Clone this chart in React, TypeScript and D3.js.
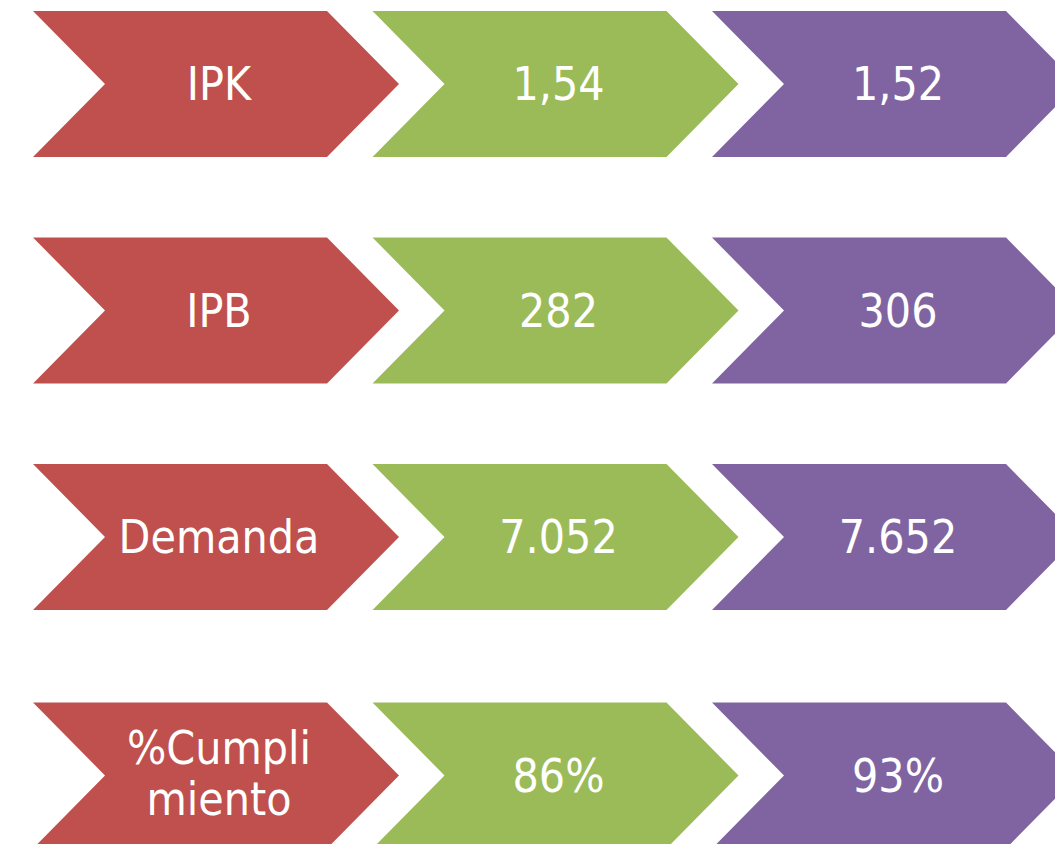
import * as d3 from 'd3';

// row labels (red), current period (green), target / next period (purple)
const metrics = ['IPK', 'IPB', 'Demanda', '%Cumplimiento'];
const metricLines = [['IPK'], ['IPB'], ['Demanda'], ['%Cumpli', 'miento']];
const actualValues = ['1,54', '282', '7.052', '86%'];
const targetValues = ['1,52', '306', '7.652', '93%'];
const stageColors = ['#C0504D', '#9BBB59', '#8064A2'];

const width = 1055;
const height = 844;

function chevronPath(x: number, cy: number, w: number, h: number, depth: number) {
  const p = d3.path();
  const top = cy - h / 2;
  const bot = cy + h / 2;
  p.moveTo(x, top);
  p.lineTo(x + w - depth, top);
  p.lineTo(x + w, cy);
  p.lineTo(x + w - depth, bot);
  p.lineTo(x, bot);
  p.lineTo(x + depth, cy);
  p.closePath();
  return p.toString();
}

export default function App() {
  const chevW = 366;
  const chevH = 146;
  const depth = 72;
  const fontSize = 46;
  const lineGap = 51;
  const multiLineExtra = 12;

  // evenly spaced rows, with a little extra room before a two-line row
  const rowY = d3.scaleLinear().domain([0, 1]).range([84, 84 + 226.5]);
  const stageX = d3.scaleLinear().domain([0, 2]).range([33, 33 + 679]);

  const rows = metrics.map((m, i) => ({
    key: m,
    cy: rowY(i) + (metricLines[i].length > 1 ? multiLineExtra : 0),
    cells: [metricLines[i], [actualValues[i]], [targetValues[i]]],
  }));

  return (
    <div style={{ position: 'absolute', left: 0, top: 0, width, height, overflow: 'hidden' }}>
      <svg width={width} height={height} style={{ display: 'block', background: '#ffffff' }}>
        {rows.map((row) => {
          const cy = row.cy;
          return (
            <g key={row.key}>
              {row.cells.map((lines, j) => {
                const x = stageX(j);
                const cx = x + chevW / 2 + 3;
                const firstBaseline = cy + 16 - ((lines.length - 1) * lineGap) / 2 - (lines.length > 1 ? 2 : 0);
                return (
                  <g key={j}>
                    <path d={chevronPath(x, cy, chevW, chevH, depth)} fill={stageColors[j]} />
                    <text
                      textAnchor="middle"
                      fill="#ffffff"
                      fontFamily="'DejaVu Sans Condensed', 'DejaVu Sans', sans-serif"
                      fontStretch="condensed"
                      fontSize={fontSize}
                    >
                      {lines.map((t, k) => (
                        <tspan key={k} x={cx} y={firstBaseline + k * lineGap}>
                          {t}
                        </tspan>
                      ))}
                    </text>
                  </g>
                );
              })}
            </g>
          );
        })}
      </svg>
    </div>
  );
}
